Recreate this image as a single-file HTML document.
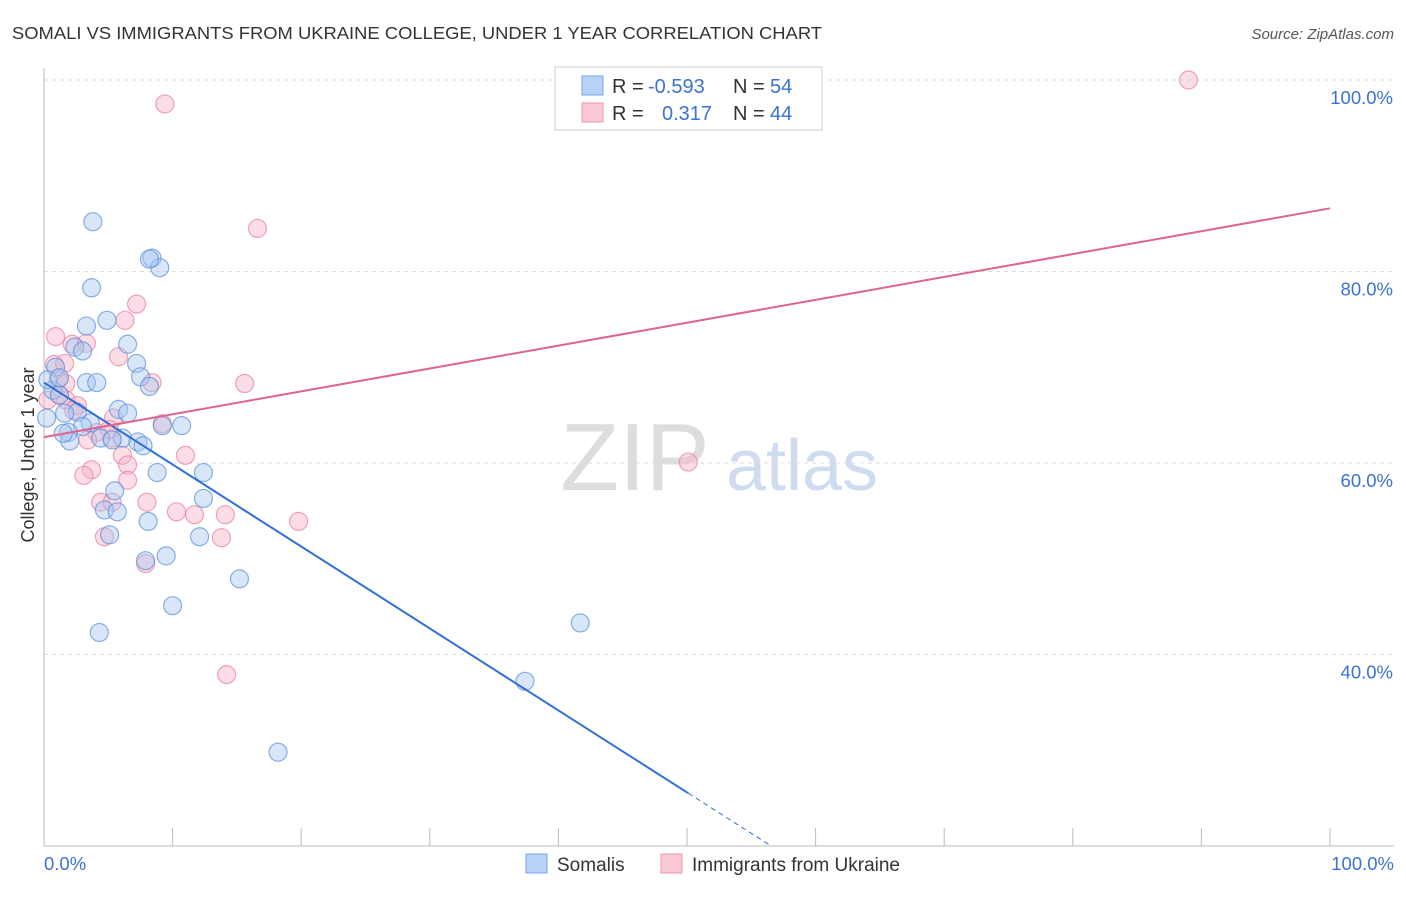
<!DOCTYPE html>
<html><head><meta charset="utf-8"><style>
body{margin:0;background:#fff;font-family:"Liberation Sans",sans-serif;}
svg text{font-family:"Liberation Sans",sans-serif;}
</style></head><body>
<svg id="chart" width="1406" height="892" viewBox="0 0 1406 892" xmlns="http://www.w3.org/2000/svg">
<text x="12" y="39" font-size="17.5" fill="#333" textLength="810" lengthAdjust="spacingAndGlyphs">SOMALI VS IMMIGRANTS FROM UKRAINE COLLEGE, UNDER 1 YEAR CORRELATION CHART</text>
<text x="1394" y="39" font-size="15" fill="#555" text-anchor="end" font-style="italic">Source: ZipAtlas.com</text>
<g>
<text x="635" y="490" font-size="96" fill="#ddd" text-anchor="middle" font-family="Liberation Serif,serif">ZIP</text>
<text x="802" y="490" font-size="72" fill="#cfdcf0" text-anchor="middle">atlas</text>
</g>
<g id="grid"></g>
<g id="axes"></g>
<g id="marks"></g>
<text transform="translate(34,455) rotate(-90)" font-size="18" fill="#333" text-anchor="middle">College, Under 1 year</text>
<g>
<rect x="555" y="67" width="267" height="63" fill="#fff" stroke="#ccc"/>
<rect x="582" y="76" width="21" height="19" fill="#b8d2f5" stroke="#7aa6e6"/>
<rect x="582" y="103" width="21" height="19" fill="#fbc8d6" stroke="#ee94b0"/>
<text x="612" y="93" font-size="20" fill="#333">R =</text>
<text x="648" y="93" font-size="20" fill="#3b73d0">-0.593</text>
<text x="733" y="93" font-size="20" fill="#333">N =</text>
<text x="770" y="93" font-size="20" fill="#3b73d0">54</text>
<text x="612" y="120" font-size="20" fill="#333">R =</text>
<text x="662" y="120" font-size="20" fill="#3b73d0">0.317</text>
<text x="733" y="120" font-size="20" fill="#333">N =</text>
<text x="770" y="120" font-size="20" fill="#3b73d0">44</text>
</g>
<g>
<rect x="526" y="854" width="21" height="19" fill="#b8d2f5" stroke="#7aa6e6"/>
<text x="557" y="871" font-size="19" fill="#333">Somalis</text>
<rect x="661" y="854" width="21" height="19" fill="#fbc8d6" stroke="#ee94b0"/>
<text x="692" y="871" font-size="19" fill="#333">Immigrants from Ukraine</text>
</g>
</svg>
<script>
const yTicks=[40,60,80,100];
const xTickVals=[0,10,20,30,40,50,60,70,80,90,100];
const blueX=[3.8,3.7,8.4,9.0,3.3,4.9,2.4,3.0,7.2,7.5,8.2,3.3,4.1,0.9,0.7,1.2,0.2,2.6,3.6,5.8,6.5,3.0,1.9,2.0,6.1,7.3,7.7,9.2,10.7,8.8,12.4,5.5,12.4,4.7,5.7,8.1,5.1,12.1,9.5,7.9,15.2,10.0,4.3,41.7,37.4,18.2,0.3,1.2,4.4,1.5,6.5,8.2,5.3,1.6];
const blueY=[85.2,78.3,81.4,80.4,74.3,74.9,72.1,71.7,70.4,69.0,68.0,68.4,68.4,70.0,67.6,67.1,64.7,65.3,64.2,65.6,65.2,63.8,63.2,62.3,62.6,62.2,61.8,63.9,63.9,59.0,59.0,57.1,56.3,55.1,54.9,53.9,52.5,52.3,50.3,49.8,47.9,45.1,42.3,43.3,37.2,29.8,68.7,68.9,62.6,63.1,72.4,81.3,62.4,65.2];
const pinkX=[89.0,9.4,16.6,7.2,6.3,0.9,2.2,3.3,5.8,15.6,8.4,0.8,1.6,1.1,1.7,0.3,1.7,2.6,2.3,5.4,4.1,3.4,5.3,9.2,11.0,6.1,6.5,3.7,3.1,6.5,4.4,8.0,10.3,11.7,14.1,19.8,5.3,4.7,13.8,7.9,14.2,50.1,5.1,1.2];
const pinkY=[100.0,97.5,84.5,76.6,74.9,73.2,72.4,72.5,71.1,68.3,68.4,70.3,70.4,68.7,68.3,66.6,66.6,66.0,65.5,64.7,63.2,62.4,62.6,64.1,60.8,60.8,59.8,59.3,58.7,58.2,55.9,55.9,54.9,54.6,54.6,53.9,55.9,52.3,52.2,49.5,37.9,60.1,63.5,67.1];
const blueTrend=[68.4,-0.856]; // intercept, slope
const blueSolidEnd=50.1;
const pinkTrend=[62.7,0.239];
const YMIN=20;
const X0=44,X1=1330,Y0=846,YS=9.575;
const sx=v=>X0+(X1-X0)*v/100, sy=v=>Y0-(v-YMIN)*YS;
const NS="http://www.w3.org/2000/svg";
function mk(parent,tag,attrs){const e=document.createElementNS(NS,tag);for(const k in attrs)e.setAttribute(k,attrs[k]);document.getElementById(parent).appendChild(e);return e;}
yTicks.forEach(t=>{
 const l=mk('grid','line',{x1:44,x2:1394,y1:sy(t),y2:sy(t),stroke:'#ddd','stroke-dasharray':'4,4'});
 
 
 const tx=mk('axes','text',{x:1393,y:sy(t)+24,'font-size':18.5,fill:'#3b73d0','text-anchor':'end'});
 tx.textContent=t.toFixed(1)+'%';
 
 
});
let a=mk('axes','line',{x1:44,x2:44,y1:68,y2:846,stroke:'#bbb'});


a=mk('axes','line',{x1:44,x2:1394,y1:846,y2:846,stroke:'#bbb'});


xTickVals.forEach(t=>{
 const l=mk('axes','line',{x1:sx(t),x2:sx(t),y1:828,y2:846,stroke:'#bbb'});
 
 
});
[[0,'start'],[100,'end']].forEach(([t,an])=>{
 const tx=mk('axes','text',{x:t?1394:44,y:870,'font-size':18.5,fill:'#3b73d0','text-anchor':an});
 tx.textContent=t.toFixed(1)+'%';
 
 
});
function dots(xs,ys,fill,stroke,name){xs.forEach((x,i)=>{
 const c=mk('marks','circle',{cx:sx(x),cy:sy(ys[i]),r:9,fill:fill,'fill-opacity':0.45,stroke:stroke,'stroke-opacity':0.7,'stroke-width':1.2});
 
 
});}
dots(pinkX,pinkY,'#f8b4c8','#e87fa0','ukraine-point');
dots(blueX,blueY,'#a9c8f0','#5a8fdc','somali-point');
const bz=(YMIN-blueTrend[0])/blueTrend[1];
let t=mk('marks','line',{x1:sx(0),y1:sy(blueTrend[0]),x2:sx(blueSolidEnd),y2:sy(blueTrend[0]+blueTrend[1]*blueSolidEnd),stroke:'#2f6fd6','stroke-width':2});


t=mk('marks','line',{x1:sx(blueSolidEnd),y1:sy(blueTrend[0]+blueTrend[1]*blueSolidEnd),x2:sx(bz),y2:sy(YMIN),stroke:'#2f6fd6','stroke-width':1,'stroke-dasharray':'5,4'});


t=mk('marks','line',{x1:sx(0),y1:sy(pinkTrend[0]),x2:sx(100),y2:sy(pinkTrend[0]+pinkTrend[1]*100),stroke:'#e0648e','stroke-width':2});


</script>
</body></html>
